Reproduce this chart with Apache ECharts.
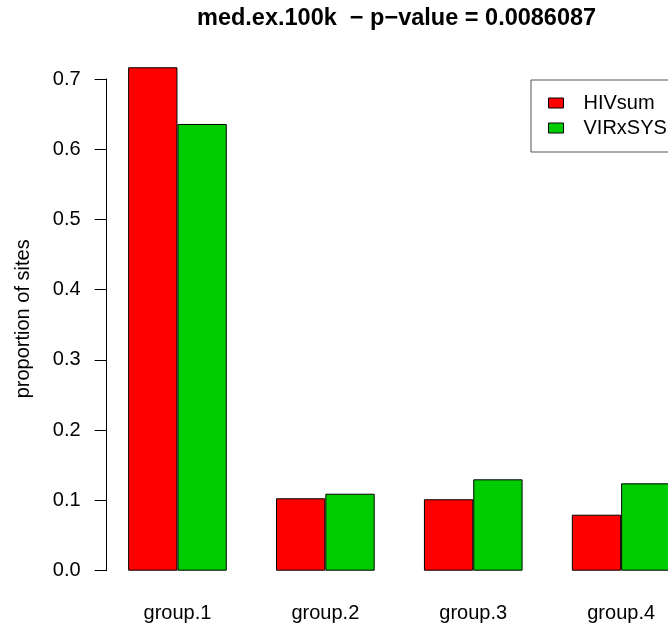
<!DOCTYPE html>
<html><head><meta charset="utf-8">
<script src="https://cdn.jsdelivr.net/npm/echarts@6/dist/echarts.min.js"></script>
<style>html,body{margin:0;padding:0;background:#fff}#c{width:668px;height:627px}</style>
</head><body><div id="c"></div>
<script>
const categories = ['group.1', 'group.2', 'group.3', 'group.4'];
const hivsum = [0.7167, 0.1031, 0.1017, 0.0797];
const virxsys = [0.636, 0.1096, 0.1301, 0.1244];
const seriesNames = ['HIVsum', 'VIRxSYS'];
const titleText = 'med.ex.100k  \u2212 p\u2212value = 0.0086087';

const FONT = '"Liberation Sans", Arial, Helvetica, sans-serif';
const chart = echarts.init(document.getElementById('c'), null, {renderer: 'canvas'});
chart.setOption({
  animation: false,
  backgroundColor: '#fff',
  textStyle: {fontFamily: FONT},
  title: {
    text: titleText, left: 197, top: 7, padding: 0,
    textStyle: {fontFamily: FONT, fontSize: 23.5, fontWeight: 'bold', color: '#000'}
  },
  legend: {
    data: seriesNames, orient: 'vertical', left: 531, top: 80,
    padding: [13, 40, 14, 17], itemGap: 5, itemWidth: 15, itemHeight: 10,
    borderColor: '#555', borderWidth: 1, borderRadius: 0,
    icon: 'rect',
    itemStyle: {borderColor: '#000', borderWidth: 1},
    textStyle: {fontFamily: FONT, fontSize: 20, color: '#000', padding: [0, 0, 0, 15]}
  },
  grid: {left: 103.5, width: 591.6, top: 79, bottom: 56.3, containLabel: false,
         outerBoundsMode: 'none'},
  xAxis: {
    type: 'category', data: categories,
    axisLine: {show: false}, axisTick: {show: false},
    axisLabel: {fontFamily: FONT, fontSize: 20, color: '#000', margin: 33}
  },
  yAxis: {
    type: 'value', min: 0, max: 0.7, interval: 0.1, offset: -3.1,
    name: 'proportion of sites', nameLocation: 'middle', nameGap: 73,
    nameTextStyle: {fontFamily: FONT, fontSize: 20, color: '#000', padding: [0, 0, 0, 12]},
    splitLine: {show: false},
    axisLine: {show: true, lineStyle: {color: '#000', width: 1}},
    axisTick: {show: true, length: 12, lineStyle: {color: '#000'}},
    axisLabel: {fontFamily: FONT, fontSize: 20, color: '#000', margin: 26,
      formatter: v => v.toFixed(1)}
  },
  series: [
    {name: seriesNames[0], type: 'bar', data: hivsum, barGap: 0, barCategoryGap: '33.3%',
     clip: false, itemStyle: {color: '#FF0000', borderColor: '#000', borderWidth: 1}},
    {name: seriesNames[1], type: 'bar', data: virxsys, barGap: 0, barCategoryGap: '33.3%',
     clip: false, itemStyle: {color: '#00CD00', borderColor: '#000', borderWidth: 1}}
  ]
});
</script></body></html>
